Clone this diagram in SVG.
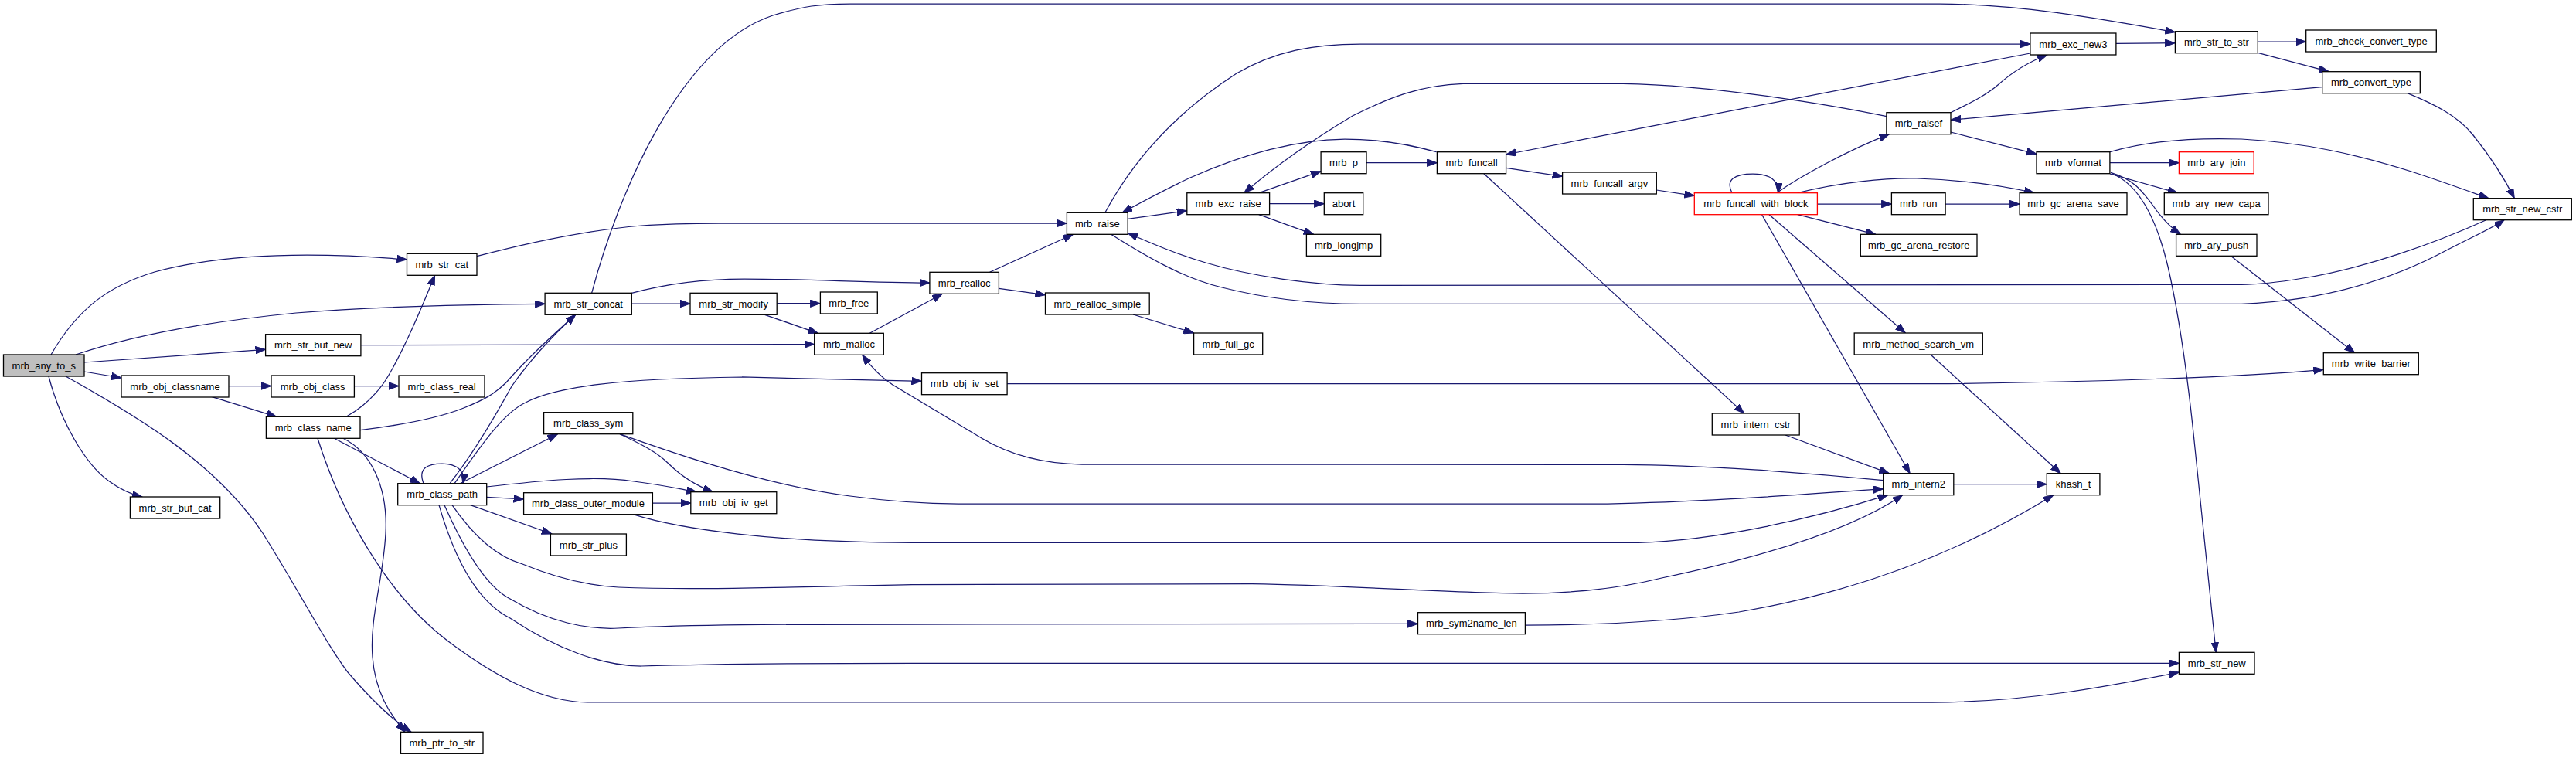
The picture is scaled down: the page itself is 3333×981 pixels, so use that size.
<svg xmlns="http://www.w3.org/2000/svg" width="3333" height="981" viewBox="0 0 3333 981">
<style>
.n rect{fill:#ffffff;stroke:#000000;stroke-width:1.3}
.n.root rect{fill:#bfbfbf}
.n.red rect{stroke:#ff0000}
.n text{font-family:"Liberation Sans",Arial,Helvetica,sans-serif;font-size:13px;text-anchor:middle;fill:#000000}
#edges path{fill:none;stroke:#191970;stroke-width:1.25;marker-end:url(#a)}
</style>
<defs>
<marker id="a" markerWidth="14" markerHeight="10" refX="13" refY="4.75" orient="auto" markerUnits="userSpaceOnUse">
<path d="M0,0 L13,4.75 L0,9.5 z" fill="#191970" stroke="#191970" stroke-width="1"/>
</marker>
</defs>
<rect x="0" y="0" width="3333" height="981" fill="#ffffff"/>
<g id="edges">
<path d="M66,459 C100,400 140,370 200,352 C300,325 430,328 526.5,336"/>
<path d="M98,459 C160,438 250,418 383,405 C480,397 600,394 705.1,393.3"/>
<path d="M109,469 L343.6,452.3"/>
<path d="M109,481 L157,489"/>
<path d="M63,487 C78,545 110,600 140,622 C155,633 170,640 184,643"/>
<path d="M85,487 C180,540 280,600 340,690 C390,770 420,830 450,870 C480,905 505,930 532,947.3"/>
<path d="M467,446.7 L1053.7,445.5"/>
<path d="M296,499.5 L351,499.5"/>
<path d="M273.6,513.3 L357.8,539.3"/>
<path d="M458.4,499.5 L516,499.5"/>
<path d="M448,539.3 C470,527 485,512 497,495 C520,460 545,400 562.6,356.3"/>
<path d="M432.4,567.3 L543.4,625.7"/>
<path d="M444,567.3 C480,585 502,630 499,690 C496,750 478,800 482,850 C485,895 505,925 524,947.3"/>
<path d="M411,567.3 C440,660 500,770 580,830 C640,875 700,908 760,909 L2500,909 C2620,909 2730,888 2819.4,870"/>
<path d="M466,556.7 C520,550 570,540 600,528 C625,518 640,510 655,495 C690,455 720,430 744.6,407.3"/>
<path d="M582,625.7 C610,590 640,540 662,500 C690,460 720,430 744.6,407.3"/>
<path d="M548,625.7 C540,605 555,600 572,600 C592,600 602,610 599,625.7"/>
<path d="M588,625.7 C620,580 650,535 680,521 C720,500 800,490 960,488 L1192.5,493.3"/>
<path d="M595.3,625.7 L721.6,561.7"/>
<path d="M629.7,630 C700,622 770,615 820,623 C860,628 880,633 901.5,636.7"/>
<path d="M629.7,643.3 L677.6,646"/>
<path d="M608.7,653.7 L714,691"/>
<path d="M802,561.7 C830,575 850,585 865,600 C885,620 905,630 922.5,636.7"/>
<path d="M802,561.7 C880,590 1000,630 1100,642 C1160,650 1200,652 1240,652 L2080,652 C2200,650 2330,640 2436.7,632.7"/>
<path d="M844.4,651 L893.8,651"/>
<path d="M819,665.7 C880,685 1000,702 1180,702.3 L2120,702.3 C2220,700 2350,670 2442.5,640.7"/>
<path d="M585,653.7 C610,690 640,720 676,730 C720,748 760,758 800,760 C900,764 1000,760 1180,756.7 L1620,755.7 C1760,758 1880,768 1970,768 C2050,768 2110,758 2150,748 C2260,725 2390,690 2461.6,640.7"/>
<path d="M575,653.7 C600,710 630,760 660,775 C710,805 760,815 800,813 C900,808 1000,808 1180,808 L1834.5,807.3"/>
<path d="M568,653.7 C590,730 620,780 660,800 C720,840 780,862 830,862 C900,860 1000,858.3 1180,858.3 L2819.4,858.3"/>
<path d="M1973.4,809 C2060,809 2160,805 2250,792 C2380,770 2520,725 2656.8,640.7"/>
<path d="M2310,563 L2444.4,612.7"/>
<path d="M2527.8,626.7 L2648.3,626.7"/>
<path d="M2498,459 L2666.3,612.7"/>
<path d="M2436.7,621.7 C2340,612 2200,601.5 2100,601.3 L1400,601 C1340,600 1300,585 1270,567 C1220,537 1175,510 1155,498 C1140,488 1125,472 1115.7,459.3"/>
<path d="M2279.6,277.7 L2471.2,612.7"/>
<path d="M2289,277.7 L2465.4,431"/>
<path d="M2298.7,249.7 C2330,228 2390,195 2444.4,173.7"/>
<path d="M2351.4,264 L2447.4,264"/>
<path d="M2325.7,249.7 C2380,236 2440,230 2480,231 C2540,233 2590,240 2632,249.7"/>
<path d="M2325.7,277.7 L2427,303.3"/>
<path d="M2241,249.7 C2232,232 2245,225 2268,225 C2290,225 2302,234 2300.6,249.7"/>
<path d="M2517.1,264 L2613.1,264"/>
<path d="M1948.6,217.3 L2021.6,228.3"/>
<path d="M2143.3,246 L2192.3,253.3"/>
<path d="M1919.9,224.7 L2256.6,535"/>
<path d="M1858.6,196.7 C1820,186 1780,180 1740,180 C1670,181 1600,203 1540,230 C1510,244 1480,260 1452,275.3"/>
<path d="M1768,210.7 L1859.4,210.7"/>
<path d="M1628.8,249.7 L1709.1,221.7"/>
<path d="M1642.6,263.7 L1713.3,263.7"/>
<path d="M1628.8,277.7 L1699.6,303.3"/>
<path d="M1459.2,283.3 L1535.8,272.7"/>
<path d="M1429.8,275.3 C1470,200 1530,140 1600,95 C1650,66 1700,57 1760,57 L2626.9,57"/>
<path d="M617,331.7 C680,315 760,298 830,292 C870,289 900,289 930,289 L1380.4,289"/>
<path d="M1280.5,352.3 L1388.5,303.3"/>
<path d="M1437.5,303.3 C1480,330 1530,360 1581,372 C1640,387 1700,393.3 1760,393.3 L2900,393.3 C2990,390 3080,370 3166.7,323.3 C3200,306 3225,295 3240,284.7"/>
<path d="M3216.7,284.7 C3150,315 3060,347 2980,360 C2950,365 2920,368.3 2900,368.3 L1760,369.3 C1700,369 1620,358 1560,340 C1520,328 1490,315 1459.2,301.7"/>
<path d="M2441,150.7 C2380,138 2220,110 2100,108.3 L1893,108.3 C1840,110 1800,125 1750,150 C1700,180 1650,215 1609.7,249.7"/>
<path d="M2626.9,69 C2500,95 2200,150 1948.6,200"/>
<path d="M2524,145.7 C2550,133 2570,123 2585,110 C2605,92 2625,80 2649,71"/>
<path d="M2524,171 L2635,199.3"/>
<path d="M2729.9,210.7 L2819.4,210.7"/>
<path d="M2729.9,196.7 C2780,182 2840,178 2900,180 C2980,184 3050,200 3120,222 C3160,235 3190,246 3220,256.7"/>
<path d="M2730,225 L2817.5,249.7"/>
<path d="M2731,223.3 C2760,232 2770,245 2785,265 C2795,280 2805,292 2821.3,303.3"/>
<path d="M2733,225 C2770,240 2792,290 2805,345 C2820,410 2832,500 2840,580 C2850,680 2860,780 2867.2,844.3"/>
<path d="M2886.4,331.3 L3046.7,456.7"/>
<path d="M1303.1,496.7 L2500,496.7 C2700,495 2900,488 3006.3,478.3"/>
<path d="M2921.3,54 L2983.7,54"/>
<path d="M2921.3,68.3 L3013.3,92.7"/>
<path d="M3004.7,112.7 C2900,121 2700,140 2524,155.3"/>
<path d="M3115,120.7 C3150,135 3180,150 3200,175 C3220,200 3240,230 3253.3,256.7"/>
<path d="M2737.9,56.3 L2814.4,55.7"/>
<path d="M765.6,379.3 C800,250 880,60 1000,20 C1040,8 1060,5 1100,5 L2510,5 C2620,6 2720,25 2814.4,41.7"/>
<path d="M817.3,393 L893,393"/>
<path d="M817.3,379.3 C870,365 920,361 963,361 C1050,361 1120,366 1202.9,366"/>
<path d="M1005.2,392.7 L1061.4,392.7"/>
<path d="M989.5,407.3 L1058.4,431.3"/>
<path d="M1125.3,431.3 L1219.3,380.3"/>
<path d="M1292.4,373.3 L1352.5,381.7"/>
<path d="M1466,407 L1544.6,431"/>
</g>
<g id="mrb_any_to_s" class="n root"><rect x="4.5" y="459" width="104.5" height="28"/><text x="56.75" y="477.5">mrb_any_to_s</text></g>
<g id="mrb_str_cat" class="n"><rect x="526.5" y="328.3" width="90.5" height="28"/><text x="571.75" y="346.8">mrb_str_cat</text></g>
<g id="mrb_str_buf_new" class="n"><rect x="343.6" y="432.7" width="123.3" height="28"/><text x="405.25" y="451.2">mrb_str_buf_new</text></g>
<g id="mrb_obj_classname" class="n"><rect x="157" y="486" width="139" height="28"/><text x="226.5" y="504.5">mrb_obj_classname</text></g>
<g id="mrb_obj_class" class="n"><rect x="351" y="486" width="107.4" height="28"/><text x="404.7" y="504.5">mrb_obj_class</text></g>
<g id="mrb_class_real" class="n"><rect x="516" y="486" width="111" height="28"/><text x="571.5" y="504.5">mrb_class_real</text></g>
<g id="mrb_class_name" class="n"><rect x="344.4" y="539.3" width="121.6" height="28"/><text x="405.2" y="557.8">mrb_class_name</text></g>
<g id="mrb_str_buf_cat" class="n"><rect x="168.4" y="643" width="116.3" height="28"/><text x="226.55" y="661.5">mrb_str_buf_cat</text></g>
<g id="mrb_class_path" class="n"><rect x="514.7" y="625.7" width="115" height="28"/><text x="572.2" y="644.2">mrb_class_path</text></g>
<g id="mrb_ptr_to_str" class="n"><rect x="518.5" y="947.3" width="106.5" height="28"/><text x="571.75" y="965.8">mrb_ptr_to_str</text></g>
<g id="mrb_str_concat" class="n"><rect x="705.1" y="379.3" width="112.2" height="28"/><text x="761.2" y="397.8">mrb_str_concat</text></g>
<g id="mrb_str_modify" class="n"><rect x="893" y="379.3" width="112.2" height="28"/><text x="949.1" y="397.8">mrb_str_modify</text></g>
<g id="mrb_free" class="n"><rect x="1061.4" y="378" width="73.9" height="28"/><text x="1098.35" y="396.5">mrb_free</text></g>
<g id="mrb_malloc" class="n"><rect x="1053.7" y="431.3" width="89.6" height="28"/><text x="1098.5" y="449.8">mrb_malloc</text></g>
<g id="mrb_class_sym" class="n"><rect x="703.6" y="533.7" width="115.2" height="28"/><text x="761.2" y="552.2">mrb_class_sym</text></g>
<g id="mrb_class_outer_module" class="n"><rect x="677.6" y="637.7" width="166.8" height="28"/><text x="761" y="656.2">mrb_class_outer_module</text></g>
<g id="mrb_obj_iv_get" class="n"><rect x="893.8" y="636.7" width="111" height="28"/><text x="949.3" y="655.2">mrb_obj_iv_get</text></g>
<g id="mrb_str_plus" class="n"><rect x="712.4" y="691" width="98" height="28"/><text x="761.4" y="709.5">mrb_str_plus</text></g>
<g id="mrb_raise" class="n"><rect x="1380.4" y="275.3" width="78.8" height="28"/><text x="1419.8" y="293.8">mrb_raise</text></g>
<g id="mrb_exc_raise" class="n"><rect x="1535.8" y="249.7" width="106.8" height="28"/><text x="1589.2" y="268.2">mrb_exc_raise</text></g>
<g id="mrb_p" class="n"><rect x="1709.1" y="196.7" width="58.9" height="28"/><text x="1738.55" y="215.2">mrb_p</text></g>
<g id="abort" class="n"><rect x="1713.3" y="249.7" width="50.4" height="28"/><text x="1738.5" y="268.2">abort</text></g>
<g id="mrb_longjmp" class="n"><rect x="1690.4" y="303.3" width="96.3" height="28"/><text x="1738.55" y="321.8">mrb_longjmp</text></g>
<g id="mrb_realloc" class="n"><rect x="1202.9" y="352.3" width="89.5" height="28"/><text x="1247.65" y="370.8">mrb_realloc</text></g>
<g id="mrb_realloc_simple" class="n"><rect x="1352.5" y="379" width="134.7" height="28"/><text x="1419.85" y="397.5">mrb_realloc_simple</text></g>
<g id="mrb_full_gc" class="n"><rect x="1544.6" y="431" width="89.1" height="28"/><text x="1589.15" y="449.5">mrb_full_gc</text></g>
<g id="mrb_obj_iv_set" class="n"><rect x="1192.5" y="482.7" width="110.6" height="28"/><text x="1247.8" y="501.2">mrb_obj_iv_set</text></g>
<g id="mrb_funcall" class="n"><rect x="1859.4" y="196.7" width="89.2" height="28"/><text x="1904" y="215.2">mrb_funcall</text></g>
<g id="mrb_funcall_argv" class="n"><rect x="2021.6" y="223" width="121.7" height="28"/><text x="2082.45" y="241.5">mrb_funcall_argv</text></g>
<g id="mrb_funcall_with_block" class="n red"><rect x="2192.3" y="249.7" width="159.1" height="28"/><text x="2271.85" y="268.2">mrb_funcall_with_block</text></g>
<g id="mrb_intern_cstr" class="n"><rect x="2215.3" y="535" width="112.9" height="28"/><text x="2271.75" y="553.5">mrb_intern_cstr</text></g>
<g id="mrb_sym2name_len" class="n"><rect x="1834.5" y="792.7" width="138.9" height="28"/><text x="1903.95" y="811.2">mrb_sym2name_len</text></g>
<g id="mrb_exc_new3" class="n"><rect x="2626.9" y="43" width="111" height="28"/><text x="2682.4" y="61.5">mrb_exc_new3</text></g>
<g id="mrb_str_to_str" class="n"><rect x="2814.4" y="40.7" width="106.9" height="28"/><text x="2867.85" y="59.2">mrb_str_to_str</text></g>
<g id="mrb_raisef" class="n"><rect x="2440.9" y="145.7" width="83.1" height="28"/><text x="2482.45" y="164.2">mrb_raisef</text></g>
<g id="mrb_vformat" class="n"><rect x="2635" y="196.7" width="94.9" height="28"/><text x="2682.45" y="215.2">mrb_vformat</text></g>
<g id="mrb_ary_join" class="n red"><rect x="2819.4" y="196.7" width="96.8" height="28"/><text x="2867.8" y="215.2">mrb_ary_join</text></g>
<g id="mrb_run" class="n"><rect x="2447.4" y="249.7" width="69.7" height="28"/><text x="2482.25" y="268.2">mrb_run</text></g>
<g id="mrb_gc_arena_save" class="n"><rect x="2613.1" y="249.7" width="138.9" height="28"/><text x="2682.55" y="268.2">mrb_gc_arena_save</text></g>
<g id="mrb_ary_new_capa" class="n"><rect x="2800.3" y="249.7" width="134.7" height="28"/><text x="2867.65" y="268.2">mrb_ary_new_capa</text></g>
<g id="mrb_gc_arena_restore" class="n"><rect x="2407.3" y="303.3" width="150.7" height="28"/><text x="2482.65" y="321.8">mrb_gc_arena_restore</text></g>
<g id="mrb_ary_push" class="n"><rect x="2815.6" y="303.3" width="104.4" height="28"/><text x="2867.8" y="321.8">mrb_ary_push</text></g>
<g id="mrb_method_search_vm" class="n"><rect x="2399.2" y="431" width="166.1" height="28"/><text x="2482.25" y="449.5">mrb_method_search_vm</text></g>
<g id="mrb_intern2" class="n"><rect x="2436.7" y="612.7" width="91.1" height="28"/><text x="2482.25" y="631.2">mrb_intern2</text></g>
<g id="khash_t" class="n"><rect x="2648.3" y="612.7" width="68.6" height="28"/><text x="2682.6" y="631.2">khash_t</text></g>
<g id="mrb_str_new" class="n"><rect x="2819.4" y="844.3" width="97.6" height="28"/><text x="2868.2" y="862.8">mrb_str_new</text></g>
<g id="mrb_check_convert_type" class="n"><rect x="2983.7" y="39" width="168.6" height="28"/><text x="3068" y="57.5">mrb_check_convert_type</text></g>
<g id="mrb_convert_type" class="n"><rect x="3004.7" y="92.7" width="126.6" height="28"/><text x="3068" y="111.2">mrb_convert_type</text></g>
<g id="mrb_str_new_cstr" class="n"><rect x="3200.3" y="256.7" width="127" height="28"/><text x="3263.8" y="275.2">mrb_str_new_cstr</text></g>
<g id="mrb_write_barrier" class="n"><rect x="3006.3" y="456.7" width="123" height="28"/><text x="3067.8" y="475.2">mrb_write_barrier</text></g>
</svg>
